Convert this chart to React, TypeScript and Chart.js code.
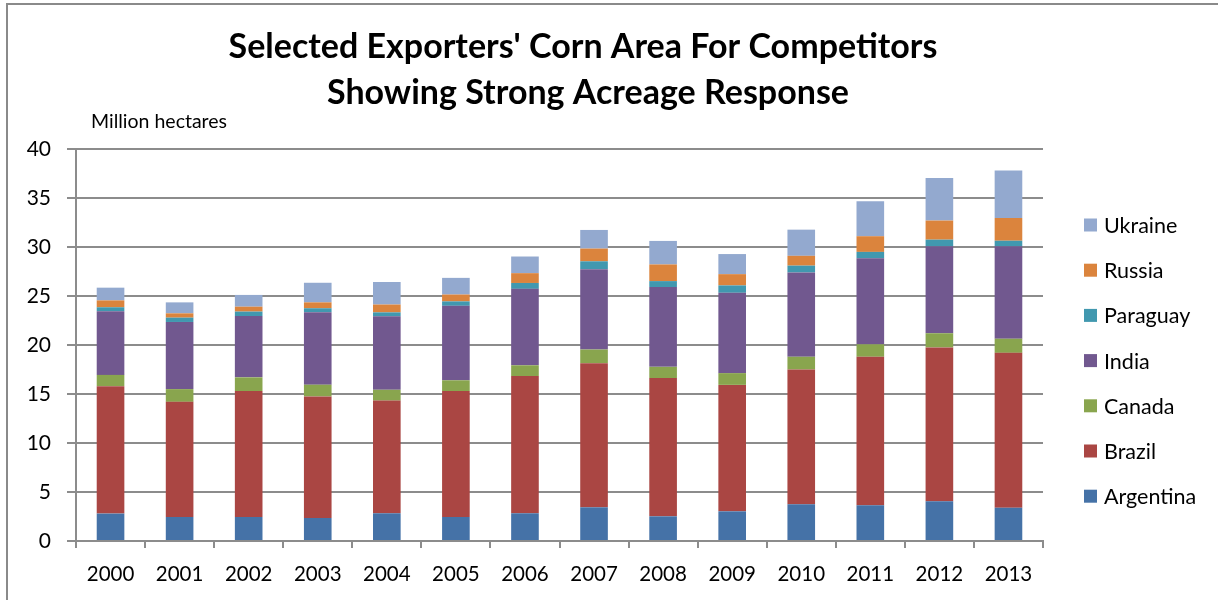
import React, { useEffect, useRef } from "react";
import { Chart, registerables } from "chart.js";

Chart.register(...registerables);

const years = ["2000","2001","2002","2003","2004","2005","2006","2007","2008","2009","2010","2011","2012","2013"];
const argentina = [2.8, 2.45, 2.45, 2.35, 2.83, 2.45, 2.83, 3.44, 2.52, 3.03, 3.74, 3.64, 4.05, 3.4];
const brazil = [13.0, 11.75, 12.85, 12.4, 11.5, 12.85, 14.0, 14.7, 14.1, 12.9, 13.76, 15.16, 15.7, 15.8];
const canada = [1.15, 1.3, 1.4, 1.2, 1.1, 1.1, 1.1, 1.4, 1.15, 1.2, 1.3, 1.27, 1.45, 1.44];
const india = [6.5, 6.85, 6.26, 7.4, 7.5, 7.6, 7.8, 8.2, 8.15, 8.2, 8.6, 8.78, 8.87, 9.43];
const paraguay = [0.4, 0.44, 0.45, 0.4, 0.4, 0.45, 0.6, 0.8, 0.6, 0.75, 0.7, 0.65, 0.68, 0.57];
const russia = [0.7, 0.44, 0.5, 0.6, 0.8, 0.7, 1.0, 1.3, 1.7, 1.15, 1.0, 1.6, 1.95, 2.32];
const ukraine = [1.3, 1.12, 1.2, 2.0, 2.3, 1.7, 1.7, 1.9, 2.4, 2.05, 2.67, 3.56, 4.34, 4.84];
const yTicks = [0, 5, 10, 15, 20, 25, 30, 35, 40];

const titleLines = ["Selected Exporters' Corn Area For Competitors", "Showing Strong Acreage Response"];
const unitLabel = "Million hectares";

const FONT = "Lato, 'Open Sans', sans-serif";

const decor = {
  id: "decor",
  beforeDraw(chart: any) {
    const ctx = chart.ctx;
    ctx.save();
    ctx.fillStyle = "#ffffff";
    ctx.fillRect(0, 0, chart.width, chart.height);
    ctx.strokeStyle = "#8a8a8a";
    ctx.lineWidth = 2;
    ctx.beginPath();
    ctx.moveTo(chart.width, 4);
    ctx.lineTo(7, 4);
    ctx.lineTo(7, chart.height);
    ctx.stroke();
    ctx.restore();
  },
  afterDraw(chart: any) {
    const ctx = chart.ctx;
    ctx.save();
    ctx.fillStyle = "#000000";
    ctx.textAlign = "center";
    ctx.textBaseline = "middle";
    ctx.font = `bold 34px ${FONT}`;
    ctx.fillText(titleLines[0], 583, 47);
    ctx.fillText(titleLines[1], 588, 93);
    ctx.textAlign = "left";
    ctx.font = `19.5px ${FONT}`;
    ctx.fillText(unitLabel, 91, 122);
    // legend
    const ds = chart.data.datasets;
    ctx.font = `21.5px ${FONT}`;
    for (let i = ds.length - 1, k = 0; i >= 0; i--, k++) {
      const y = 225 + k * 45.2;
      ctx.fillStyle = ds[i].backgroundColor;
      ctx.fillRect(1084, y - 6.5, 13, 13);
      ctx.fillStyle = "#000000";
      ctx.fillText(ds[i].label, 1104, y + 1);
    }
    ctx.restore();
  },
};

export default function App() {
  const ref = useRef<HTMLCanvasElement>(null);
  useEffect(() => {
    const mk = (label: string, data: number[], color: string) => ({
      label, data, backgroundColor: color, borderWidth: 0,
      barPercentage: 0.4, categoryPercentage: 1,
    });
    const chart = new Chart(ref.current!, {
      type: "bar",
      data: {
        labels: years,
        datasets: [
          mk("Argentina", argentina, "#4572A7"),
          mk("Brazil", brazil, "#AA4643"),
          mk("Canada", canada, "#89A54E"),
          mk("India", india, "#71588F"),
          mk("Paraguay", paraguay, "#4198AF"),
          mk("Russia", russia, "#DB843D"),
          mk("Ukraine", ukraine, "#93A9CF"),
        ],
      },
      options: {
        animation: false,
        responsive: false,
        layout: { padding: { left: 0, top: 149, right: 175, bottom: 0 } },
        plugins: { legend: { display: false }, title: { display: false }, tooltip: { enabled: false } },
        scales: {
          x: {
            stacked: true,
            afterFit: (s: any) => { s.height = 59; },
            grid: { drawOnChartArea: false, drawTicks: true, tickLength: 7, offset: true, color: "#8c8c8c", lineWidth: 2 },
            border: { display: true, color: "#8c8c8c", width: 2 },
            ticks: { color: "#000", font: { family: FONT, size: 20.5 }, padding: 14, maxRotation: 0 },
          },
          y: {
            stacked: true,
            min: 0, max: 40,
            afterFit: (s: any) => { s.width = 76; },
            afterBuildTicks: (s: any) => { s.ticks = yTicks.map((v) => ({ value: v })); },
            grid: { color: "#8c8c8c", lineWidth: 2, tickLength: 9 },
            border: { display: true, color: "#8c8c8c", width: 2 },
            ticks: { color: "#000", font: { family: FONT, size: 21 }, padding: 16 },
          },
        },
      },
      plugins: [decor],
    });
    return () => chart.destroy();
  }, []);
  return (
    <div style={{ position: "absolute", left: 0, top: 0, width: 1218, height: 600 }}>
      <canvas ref={ref} width={1218} height={600} />
    </div>
  );
}
